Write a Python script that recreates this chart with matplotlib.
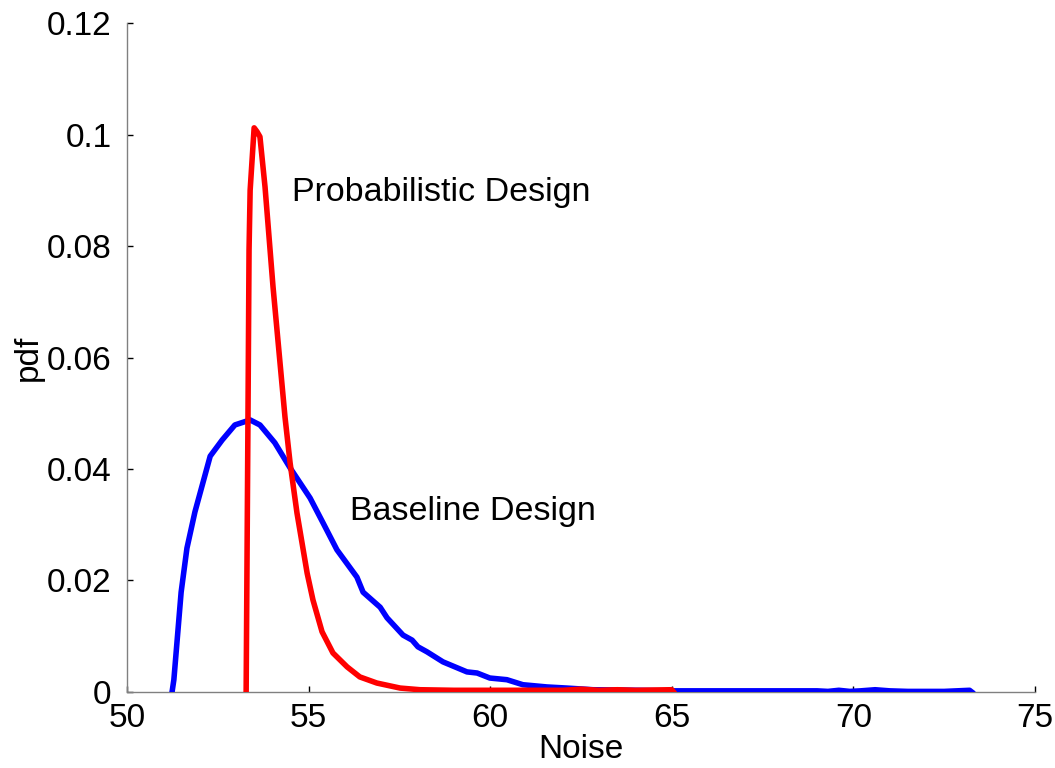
import matplotlib
matplotlib.use("Agg")
import matplotlib.pyplot as plt

plt.rcParams['font.family'] = ['Liberation Sans', 'DejaVu Sans']

# Baseline design pdf
base_x = [51.24, 51.29, 51.49, 51.65, 51.87, 52.29, 52.62, 52.97, 53.39, 53.66,
          54.07, 54.49, 55.04, 55.40, 55.78, 56.33, 56.50, 56.97, 57.16, 57.60,
          57.85, 58.01, 58.26, 58.70, 59.36, 59.64, 59.99, 60.46, 60.90, 61.56,
          62.11, 62.83, 64.0, 65.0, 67.0, 69.0, 69.3, 69.6, 69.9, 70.2, 70.6,
          71.0, 71.5, 72.5, 73.2, 73.26]
base_y = [0.0, 0.0022, 0.0179, 0.0258, 0.0323, 0.0423, 0.0452, 0.0479, 0.0488, 0.0479,
          0.0447, 0.0402, 0.0348, 0.0303, 0.0255, 0.0206, 0.0179, 0.0152, 0.0133, 0.0102,
          0.0093, 0.0081, 0.0072, 0.0054, 0.0036, 0.0034, 0.0025, 0.0022, 0.0013, 0.0009,
          0.0007, 0.0004, 0.0003, 0.0002, 0.0002, 0.0002, 0.0001, 0.0003, 0.0001, 0.0002, 0.0004,
          0.0002, 0.0001, 0.0001, 0.0003, 0.0]

# Probabilistic design pdf
prob_x = [53.28, 53.33, 53.36, 53.39, 53.50, 53.58, 53.66, 53.80, 54.02, 54.35,
          54.49, 54.68, 54.96, 55.12, 55.37, 55.67, 56.06, 56.41, 56.88, 57.52,
          58.07, 59.0, 60.0, 61.0, 62.0, 62.5, 63.0, 63.5, 64.0, 65.0, 65.05]
prob_y = [0.0, 0.0488, 0.0793, 0.0900, 0.1012, 0.1005, 0.0996, 0.0906, 0.0727, 0.0493,
          0.0411, 0.0321, 0.0213, 0.0165, 0.0108, 0.0070, 0.0045, 0.0027, 0.0016, 0.0007,
          0.0004, 0.0003, 0.0003, 0.0003, 0.0003, 0.0005, 0.0003, 0.0004, 0.0003, 0.0004, 0.0]

x_ticks = [50, 55, 60, 65, 70, 75]
y_ticks = [0, 0.02, 0.04, 0.06, 0.08, 0.1, 0.12]
y_tick_labels = ['0', '0.02', '0.04', '0.06', '0.08', '0.1', '0.12']

fig = plt.figure(figsize=(10.55, 7.68), dpi=100)
ax = fig.add_axes([0.1204, 0.099, 0.8606, 0.871])

ax.plot(base_x, base_y, color='#0000ff', lw=4.0, solid_joinstyle='round', zorder=3)
ax.plot(prob_x, prob_y, color='#ff0000', lw=4.0, solid_joinstyle='round', zorder=4)

ax.set_xlim(50, 75)
ax.set_ylim(0, 0.12)
ax.set_xticks(x_ticks)
ax.set_xticklabels([str(v) for v in x_ticks])
ax.set_yticks(y_ticks)
ax.set_yticklabels(y_tick_labels)

for s in ['top', 'right']:
    ax.spines[s].set_visible(False)
for s in ['left', 'bottom']:
    ax.spines[s].set_color('#808080')
    ax.spines[s].set_linewidth(1.0)

ax.tick_params(axis='both', direction='in', length=4, width=1, color='black',
               labelsize=24, pad=8)
ax.tick_params(axis='y', pad=11)

ax.set_xlabel('Noise', fontsize=24, labelpad=0)
ax.set_ylabel('pdf', fontsize=24, labelpad=2)

ax.text(54.54, 0.0896, 'Probabilistic Design', fontsize=24.5, ha='left', va='center')
ax.text(56.14, 0.0323, 'Baseline Design', fontsize=24.5, ha='left', va='center')

fig.savefig('out.png', dpi=100)
